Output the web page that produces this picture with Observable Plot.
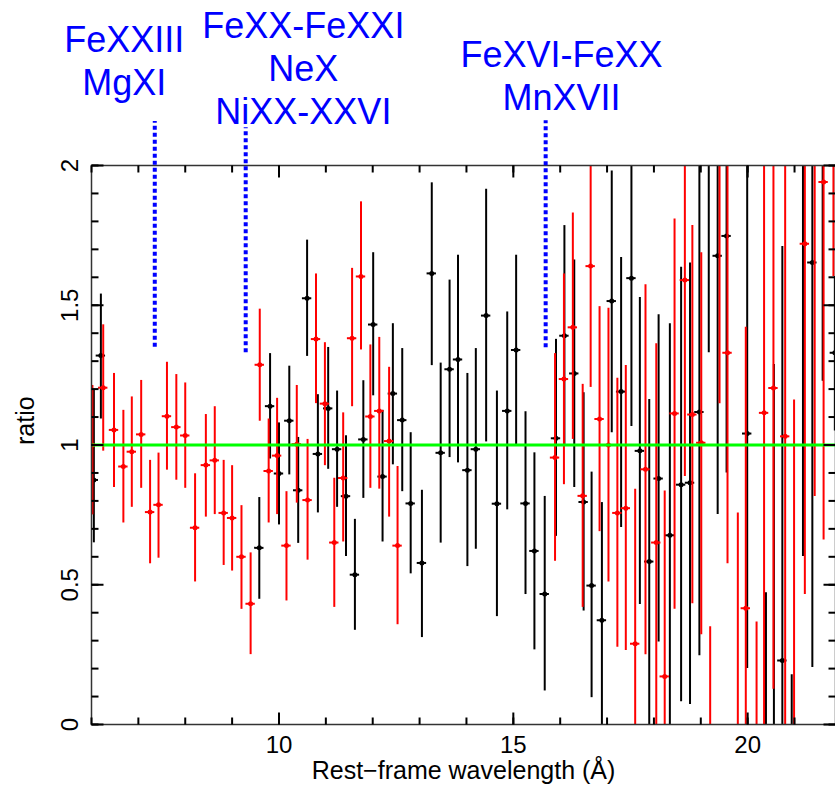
<!DOCTYPE html>
<html><head><meta charset="utf-8">
<script src="https://cdn.jsdelivr.net/npm/d3@7"></script>
<script src="https://cdn.jsdelivr.net/npm/@observablehq/plot@0.6"></script>
<style>body{margin:0;background:#fff} #chart{width:835px;height:786px}</style>
</head><body><div id="chart"></div>
<script>
// ---- data: black series (wavelength Å, ratio, lower, upper) ----
const blackX  = [6.05,6.20,9.58,9.81,10.00,10.22,10.41,10.60,10.83,11.05,11.24,11.43,11.62,11.80,12.01,12.21,12.43,12.63,12.81,13.05,13.26,13.45,13.64,13.82,14.02,14.20,14.42,14.65,14.87,15.06,15.26,15.45,15.67,15.91,16.09,16.30,16.50,16.67,16.89,17.10,17.30,17.52,17.70,17.90,18.10,18.34,18.58,18.77,18.97,19.17,19.36,19.55,19.99,20.39,20.56,20.74,20.94,21.18,21.38,21.60,21.86];
const blackY  = [0.875,1.32,0.632,1.139,0.898,1.087,0.838,1.525,0.968,1.131,0.985,0.817,0.536,1.02,1.431,0.887,1.184,1.089,0.791,0.578,1.614,0.972,1.271,1.306,0.91,0.985,1.463,0.79,1.122,1.34,0.791,0.621,0.467,1.024,1.391,1.256,0.796,0.497,0.373,1.515,1.191,1.597,0.979,0.583,0.88,0.677,0.858,0.865,1.118,2.15,1.677,1.748,1.041,-0.3,-0.2,0.229,-0.4,2.3,1.653,2.4,1.33];
const blackLo = [0.65,1.093,0.448,0.95,0.714,0.893,0.648,1.317,0.757,0.913,0.777,0.601,0.337,0.809,1.176,0.653,0.929,0.833,0.539,0.311,1.284,0.649,0.955,0.936,0.565,0.627,1.011,0.386,0.768,1.0,0.465,0.267,0.12,0.673,1.0,0.848,0.406,0.096,-0.05,1.044,0.705,1.066,0.429,-0.05,0.295,-0.1,0.081,0.072,0.246,1.33,0.751,0.9,0.2,-1.0,-1.0,-0.5,-1.0,0.601,0.204,1.228,1.05];
const blackHi = [1.20,1.54,0.812,1.327,1.079,1.282,1.027,1.733,1.18,1.349,1.193,1.033,0.734,1.23,1.688,1.124,1.434,1.345,1.044,0.838,1.938,1.293,1.59,1.679,1.256,1.345,1.915,1.193,1.476,1.679,1.119,0.972,0.816,1.378,1.785,1.662,1.187,0.903,0.794,1.98,1.671,2.1,1.528,1.163,1.466,1.434,1.636,1.651,2.05,2.9,2.6,2.6,2.2,0.471,1.288,1.71,0.178,3.0,2.5,3.0,1.603];
// ---- data: red series ----
const redX  = [6.02,6.25,6.48,6.68,6.86,7.06,7.25,7.43,7.61,7.81,8.00,8.21,8.44,8.63,8.82,9.00,9.20,9.395,9.59,9.78,9.96,10.16,10.38,10.61,10.79,10.98,11.18,11.37,11.56,11.75,11.95,12.14,12.35,12.53,15.89,16.08,16.27,16.48,16.65,16.84,17.03,17.22,17.40,17.60,17.82,18.05,18.23,18.44,18.66,18.82,19.01,19.20,19.40,19.57,19.79,19.96,20.19,20.35,20.55,20.80,20.99,21.22,21.43,21.62,21.83];
const redY  = [1.0,1.205,1.054,0.923,0.976,1.038,0.76,0.786,1.103,1.064,1.034,0.704,0.928,0.945,0.757,0.739,0.6,0.432,1.287,0.907,0.962,0.64,1.003,0.803,1.379,1.148,0.651,0.882,1.382,1.603,1.102,1.122,1.014,0.64,0.955,1.236,1.421,0.818,1.64,1.093,1.0,0.757,0.774,0.289,0.913,0.651,0.172,1.113,1.59,1.109,1.008,-0.3,2.2,1.33,-0.1,0.416,-0.15,1.115,1.204,1.031,-0.2,1.72,2.3,1.941,2.5];
const redLo = [0.75,0.978,0.848,0.721,0.777,0.845,0.575,0.595,0.91,0.874,0.845,0.51,0.742,0.751,0.569,0.549,0.412,0.25,1.085,0.721,0.751,0.442,0.792,0.588,1.148,0.926,0.419,0.653,1.137,1.34,0.845,0.842,0.742,0.357,0.584,0.858,1.02,0.419,1.206,0.69,0.51,0.276,0.265,-0.3,0.25,-0.1,-0.5,0.412,0.887,0.432,0.321,-1.0,1.148,0.575,-1.0,-0.6,-1.0,-0.2,0.126,-0.1,-1.0,0.465,0.816,0.66,1.603];
const redHi = [1.213,1.43,1.256,1.124,1.172,1.231,0.945,0.971,1.296,1.252,1.222,0.897,1.109,1.137,0.945,0.926,0.783,0.614,1.486,1.093,1.167,0.833,1.213,1.02,1.612,1.366,0.881,1.115,1.632,1.87,1.358,1.385,1.278,0.923,1.327,1.612,1.83,1.217,2.1,1.495,1.489,1.239,1.284,0.842,1.573,1.362,0.835,1.809,2.3,1.785,1.688,0.35,3.0,2.1,0.757,1.421,0.367,2.4,2.3,2.2,1.161,3.0,3.0,3.0,3.2];
const binHalfWidth = 0.1; // Å, horizontal error bar
// ---- line identifications ----
const lineX   = [7.35, 9.29, 15.69];
const lineLo  = [1.35, 1.33, 1.348];
const lineHi  = [2.157, 2.135, 2.16];
const labelX  = [6.70, 10.52, 16.03];
const labelY  = [2.515, 2.565, 2.462];
const labelText = ["FeXXIII\nMgXI", "FeXX-FeXXI\nNeX\nNiXX-XXVI", "FeXVI-FeXX\nMnXVII"];
// ---- axes ----
const xDomain = [6, 21.874];
const yDomain = [0, 2];
const xMajor = [10, 15, 20];
const xMinor = d3.range(6, 22);
const yMajor = [0, 0.5, 1, 1.5, 2];
const yMinor = d3.range(0, 21).map(i => i / 10);

const W = 835, H = 786, mL = 91, mR = 0, mT = 165, mB = 62;
const pxPerX = (W - mL - mR) / (xDomain[1] - xDomain[0]);
const pxPerY = (H - mT - mB) / (yDomain[1] - yDomain[0]);

const mk = (xs, ys, lo, hi) => xs.map((x, i) => ({x, y: ys[i], lo: lo[i], hi: hi[i]}));
const black = mk(blackX, blackY, blackLo, blackHi);
const red = mk(redX, redY, redLo, redHi);
const lines = lineX.map((x, i) => ({x, lo: lineLo[i], hi: lineHi[i]}));
const labels = labelX.map((x, i) => ({x, y: labelY[i], text: labelText[i]}));

const series = (data, color) => [
  Plot.ruleX(data, {x: "x", y1: "lo", y2: "hi", stroke: color, strokeWidth: 2, clip: true}),
  Plot.ruleY(data, {y: "y", x1: d => d.x - binHalfWidth, x2: d => d.x + binHalfWidth, stroke: color, strokeWidth: 2, clip: true}),
  Plot.dot(data, {x: "x", y: "y", r: 2.5, fill: color, stroke: "none", clip: true})
];
// inward ticks on all four sides (length converted from pixels to data units)
const xTickRows = (vals, len) => {
  const d = len / pxPerY;
  return vals.flatMap(v => [{x: v, a: yDomain[0], b: yDomain[0] + d}, {x: v, a: yDomain[1] - d, b: yDomain[1]}]);
};
const yTickRows = (vals, len) => {
  const d = len / pxPerX;
  return vals.flatMap(v => [{y: v, a: xDomain[0], b: xDomain[0] + d}, {y: v, a: xDomain[1] - d, b: xDomain[1]}]);
};
const xTickData = [...xTickRows(xMinor, 7), ...xTickRows(xMajor, 12)];
const yTickData = [...yTickRows(yMinor, 7), ...yTickRows(yMajor, 12)];

const chart = Plot.plot({
  width: W, height: H,
  marginLeft: mL, marginRight: mR, marginTop: mT, marginBottom: mB,
  x: {domain: xDomain, label: null},
  y: {domain: yDomain, label: null},
  style: {fontFamily: "'Liberation Sans', Arial, sans-serif", background: "white", color: "black"},
  marks: [
    ...series(black, "black"),
    ...series(red, "#ff0000"),
    Plot.ruleY([1], {stroke: "#00ff00", strokeWidth: 3}),
    Plot.frame({stroke: "#333", strokeWidth: 1.5}),
    Plot.link(xTickData, {x1: "x", x2: "x", y1: "a", y2: "b", stroke: "black", strokeWidth: 2}),
    Plot.link(yTickData, {y1: "y", y2: "y", x1: "a", x2: "b", stroke: "black", strokeWidth: 2}),
    Plot.axisX({anchor: "bottom", ticks: xMajor, tickSize: 0, tickPadding: 11, fontSize: 24, label: null, tickFormat: d => String(d)}),
    Plot.axisY({anchor: "left", ticks: yMajor, tickSize: 0, tickPadding: 14, tickRotate: -90, fontSize: 24, label: null, tickFormat: d => String(d)}),
    Plot.text(["ratio"], {frameAnchor: "left", dx: -66, rotate: -90, fontSize: 25, fill: "black"}),
    Plot.text(["Rest\u2212frame wavelength (\u00C5)"], {frameAnchor: "bottom", dy: 54, fontSize: 25, fill: "black"}),
    Plot.ruleX(lines, {x: "x", y1: "lo", y2: "hi", stroke: "#0000ff", strokeWidth: 4, strokeDasharray: "4,3"}),
    Plot.text(labels, {x: "x", y: "y", text: "text", lineAnchor: "top", lineHeight: 1.19, fontSize: 36, fill: "#0000ff"})
  ]
});
document.getElementById("chart").appendChild(chart);
</script>
</body></html>
